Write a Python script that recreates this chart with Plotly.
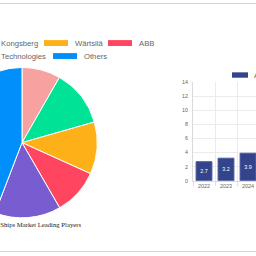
import plotly.graph_objects as go

# ---------------- data ----------------
players = ["Rolls-Royce", "Kongsberg", "Wärtsilä", "ABB", "L3Harris Technologies", "Others"]
shares = [8.3, 12.3, 11.2, 9.9, 14.2, 44.2]
pie_title = "Autonomous Ships Market Leading Players"

years = ["2022", "2023", "2024"]
market_size = [2.7, 3.2, 3.9]
y_ticks = [0, 2, 4, 6, 8, 10, 12, 14]
bar_series = "Autonomous Ships Market Size (USD Billion)"

# ---------------- styles / layout ----------------
pie_colors = ["#F7A1A1", "#00E396", "#FEB019", "#FF4560", "#775DD0", "#008FFB"]
bar_color = "#34448A"
grid_color = "#EBEBEB"
text_gray = "#666666"

S = 60          # part of the page hidden on the left
W = 256 + S
H = 256


def px(sx):
    return (sx + S) / W


def py(sy):
    return 1 - sy / H


fig = go.Figure()

fig.add_trace(go.Pie(
    labels=players, values=shares,
    marker=dict(colors=pie_colors, line=dict(color="white", width=1)),
    sort=False, direction="clockwise", rotation=0,
    textinfo="none", hoverinfo="label+percent", showlegend=False,
    domain=dict(x=[px(-55), px(99)], y=[py(220), py(66)]),
))

fig.add_trace(go.Bar(
    x=years, y=market_size, name=bar_series,
    text=[str(v) for v in market_size], textposition="inside",
    insidetextanchor="middle", textfont=dict(size=5.4, color="white", family="Liberation Sans"),
    marker=dict(color=bar_color, line=dict(color="#4A5A9E", width=1)),
    width=0.72, showlegend=False, xaxis="x", yaxis="y",
))

shapes = []
annotations = []

# pie legend (two centred rows)
legend_rows = [[0, 1, 2, 3], [4, 5]]
row_box_left = [[-107.5, -30, 44, 108], [-61, 53]]
row_center_y = [41, 54.3]
for r, idxs in enumerate(legend_rows):
    for k, i in enumerate(idxs):
        bx = row_box_left[r][k]
        cy = row_center_y[r]
        shapes.append(dict(type="rect", xref="paper", yref="paper",
                           x0=px(bx), x1=px(bx + 24), y0=py(cy + 3), y1=py(cy - 3),
                           fillcolor=pie_colors[i], line=dict(width=0)))
        annotations.append(dict(xref="paper", yref="paper", x=px(bx + 29), y=py(cy),
                                xanchor="left", yanchor="middle", showarrow=False,
                                text=players[i],
                                font=dict(size=7.7, color=text_gray, family="Liberation Sans")))

# bar legend
shapes.append(dict(type="rect", xref="paper", yref="paper",
                   x0=px(232), x1=px(248), y0=py(76.5), y1=py(71),
                   fillcolor=bar_color, line=dict(width=0)))
annotations.append(dict(xref="paper", yref="paper", x=px(252), y=py(73.8),
                        xanchor="left", yanchor="middle", showarrow=False,
                        text=bar_series,
                        font=dict(size=7.7, color=text_gray, family="Liberation Sans")))

# pie title
annotations.append(dict(xref="paper", yref="paper", x=px(22), y=py(227),
                        xanchor="center", yanchor="middle", showarrow=False,
                        text=pie_title,
                        font=dict(size=6.7, color="#222222", family="Liberation Serif")))

# page separator lines
for sy in (0.5, 254.5):
    shapes.append(dict(type="line", xref="paper", yref="paper",
                       x0=0, x1=1, y0=py(sy), y1=py(sy),
                       line=dict(color="#D6D6D6", width=1)))

fig.update_layout(
    width=W, height=H,
    margin=dict(l=0, r=0, t=0, b=0),
    paper_bgcolor="white", plot_bgcolor="white",
    shapes=shapes, annotations=annotations,
    xaxis=dict(domain=[px(193), 1], type="category", range=[-0.5, -0.5 + 63 / 22],
               tickson="boundaries", showgrid=True, gridcolor=grid_color,
               ticks="outside", ticklen=4, tickcolor="#E0E0E0",
               showline=True, linecolor="#DADADA", linewidth=1,
               tickfont=dict(size=5.4, color=text_gray, family="Liberation Sans"),
               anchor="y", fixedrange=True),
    yaxis=dict(domain=[py(182), py(81)], range=[0, 14], tickvals=y_ticks,
               showgrid=True, gridcolor=grid_color, zeroline=False,
               ticks="", ticklabelstandoff=3,
               showline=True, linecolor="#DADADA", linewidth=1,
               tickfont=dict(size=5.4, color=text_gray, family="Liberation Sans"),
               anchor="x", fixedrange=True),
    showlegend=False,
)

post = ("var d=document.getElementById('{plot_id}');"
        "d.style.position='absolute';d.style.left='-" + str(S) + "px';d.style.top='0px';"
        "document.body.style.overflow='hidden';document.documentElement.style.overflow='hidden';"
        "document.body.style.margin='0';")

fig.write_html("out.html", post_script=post, config={"displayModeBar": False})
